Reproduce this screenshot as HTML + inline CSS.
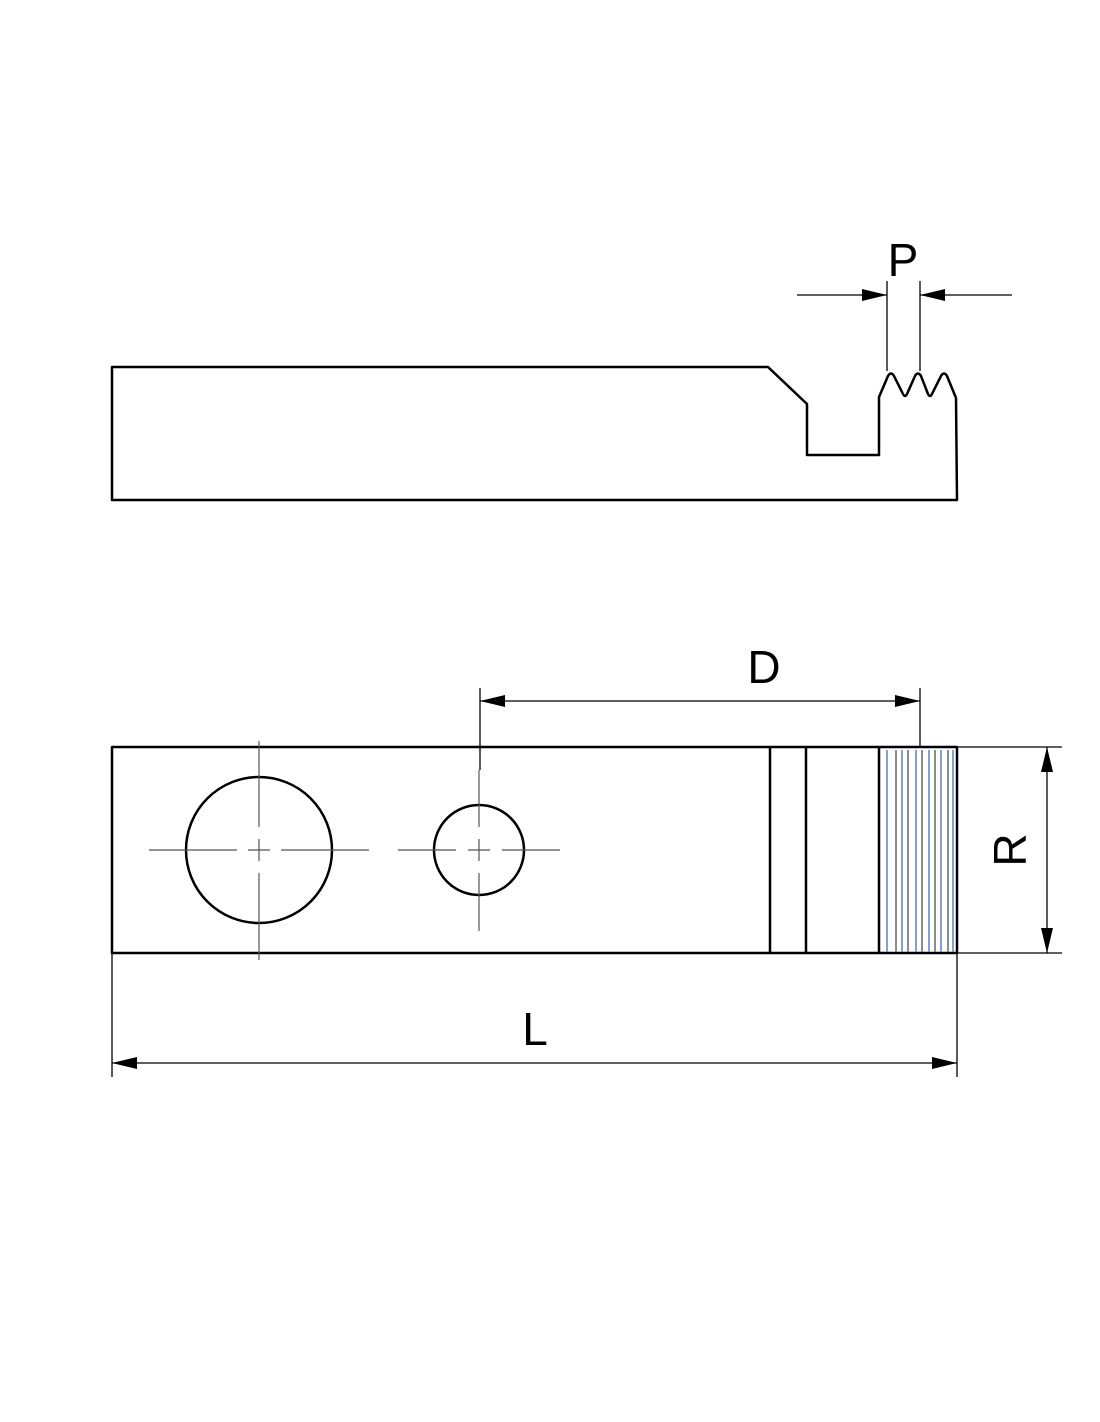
<!DOCTYPE html>
<html><head><style>html,body{margin:0;padding:0;background:#fff}svg{display:block}</style></head>
<body>
<svg width="1100" height="1422" viewBox="0 0 1100 1422" xmlns="http://www.w3.org/2000/svg" font-family="Liberation Sans, sans-serif">
<g fill="none" stroke="#000" stroke-width="2.5" stroke-linejoin="round">
<path d="M112,367 L768,367 L807,404 L807,455 L879,455 L879,397 L888,376 Q891,371 894,376 L903,394 Q905,398 907,394 L915,376 Q918,371 921,376 L928,394 Q930,398 932,394 L941,376 Q944,371 947,376 L956,398 L957,500 L112,500 Z"/>
<rect x="112" y="747" width="845" height="206"/>
<line x1="770" y1="747" x2="770" y2="953"/>
<line x1="806" y1="747" x2="806" y2="953"/>
<line x1="879" y1="747" x2="879" y2="953"/>
<circle cx="259" cy="850" r="73"/>
<circle cx="479" cy="850" r="45"/>
</g>
<g stroke-width="1.5">
<line x1="887" y1="750" x2="887" y2="952" stroke="#5a82c0"/>
<line x1="896" y1="750" x2="896" y2="952" stroke="#666"/>
<line x1="902" y1="750" x2="902" y2="952" stroke="#5a82c0"/>
<line x1="908" y1="750" x2="908" y2="952" stroke="#666"/>
<line x1="916" y1="750" x2="916" y2="952" stroke="#5a82c0"/>
<line x1="922" y1="750" x2="922" y2="952" stroke="#666"/>
<line x1="929" y1="750" x2="929" y2="952" stroke="#5a82c0"/>
<line x1="935" y1="750" x2="935" y2="952" stroke="#666"/>
<line x1="941" y1="750" x2="941" y2="952" stroke="#5a82c0"/>
<line x1="948" y1="750" x2="948" y2="952" stroke="#666"/>
<line x1="953" y1="750" x2="953" y2="952" stroke="#5a82c0"/>
</g>
<g stroke="#555" stroke-width="1.2">
<path d="M149,850H237M248,850H270M281,850H369"/>
<path d="M259,741V827M259,839V861M259,873V960"/>
<path d="M398,850H456M468,850H490M502,850H560"/>
<path d="M479,770V827M479,839V861M479,873V931"/>
</g>
<g stroke="#000" stroke-width="1.3">
<line x1="887" y1="281" x2="887" y2="371"/>
<line x1="920" y1="281" x2="920" y2="371"/>
<line x1="797" y1="295" x2="887" y2="295"/>
<line x1="920" y1="295" x2="1012" y2="295"/>
<line x1="480" y1="688" x2="480" y2="770"/>
<line x1="920" y1="688" x2="920" y2="747"/>
<line x1="480" y1="701" x2="920" y2="701"/>
<line x1="957" y1="747" x2="1062" y2="747"/>
<line x1="957" y1="953" x2="1062" y2="953"/>
<line x1="1047" y1="747" x2="1047" y2="953"/>
<line x1="112" y1="953" x2="112" y2="1077"/>
<line x1="957" y1="953" x2="957" y2="1077"/>
<line x1="112" y1="1063" x2="957" y2="1063"/>
</g>
<g fill="#000">
<path d="M887,295 L862,289 L862,301Z"/>
<path d="M920,295 L945,289 L945,301Z"/>
<path d="M480,701 L505,695 L505,707Z"/>
<path d="M920,701 L895,695 L895,707Z"/>
<path d="M1047,747 L1041,772 L1053,772Z"/>
<path d="M1047,953 L1041,928 L1053,928Z"/>
<path d="M112,1063 L137,1057 L137,1069Z"/>
<path d="M957,1063 L932,1057 L932,1069Z"/>
</g>
<g fill="#000" font-size="46">
<text x="903" y="276" text-anchor="middle">P</text>
<text x="764" y="683" text-anchor="middle">D</text>
<text x="535" y="1045" text-anchor="middle">L</text>
<text x="0" y="0" text-anchor="middle" transform="translate(1026,850) rotate(-90)">R</text>
</g>
</svg>
</body></html>
